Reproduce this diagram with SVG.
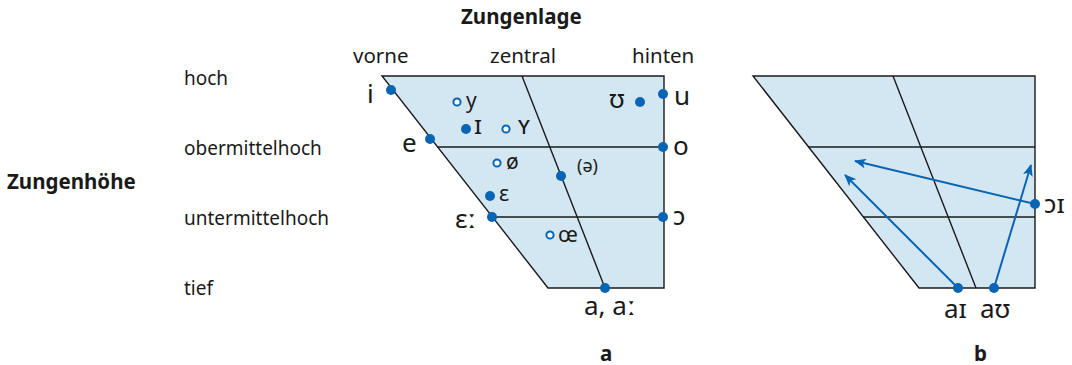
<svg xmlns="http://www.w3.org/2000/svg" width="1072" height="365" viewBox="0 0 1072 365">
<style>
.t{font-family:"Noto Sans","Open Sans","DejaVu Sans",sans-serif;fill:#1a1a1a}
.lab{font-size:19px}
.top{font-size:20.5px}
.big{font-size:26px}
.sm{font-size:21px}
.sc{font-size:25px}
.b{font-weight:bold;font-size:20.5px}
.area{fill:#d3e7f3;stroke:none}
.ln{stroke:#1a1a1a;stroke-width:1.4;fill:none}
.dot{fill:#0a64b4}
.open{fill:#ffffff;stroke:#0a64b4;stroke-width:2}
.arr{stroke:#0a64b4;stroke-width:2;fill:none;marker-end:url(#ah)}
</style>
<defs>
<marker id="ah" viewBox="0 0 12 10" refX="11" refY="5" markerWidth="12" markerHeight="10" markerUnits="userSpaceOnUse" orient="auto">
<path d="M0,0 L12,5 L0,10 L3,5 Z" fill="#0a64b4"/>
</marker>
</defs>

<g id="axis-labels">
<text class="t b" x="461" y="24">Zungenlage</text>
<text class="t b" x="7" y="189">Zungenhöhe</text>
<text class="t top" x="353" y="63">vorne</text>
<text class="t top" x="490" y="63">zentral</text>
<text class="t top" x="632" y="63">hinten</text>
<text class="t lab" x="184" y="85">hoch</text>
<text class="t lab" x="184" y="155">obermittelhoch</text>
<text class="t lab" x="184" y="225">untermittelhoch</text>
<text class="t lab" x="184" y="295">tief</text>
<text class="t b" x="600" y="361">a</text>
<text class="t b" x="974" y="361">b</text>
</g>

<g id="chart-a">
<polygon class="area" points="382,76 664,76 664,288 548,288"/>
<polygon class="ln" points="382,76 664,76 664,288 548,288"/>
<line class="ln" x1="437.6" y1="147" x2="664" y2="147"/>
<line class="ln" x1="492" y1="217" x2="664" y2="217"/>
<line class="ln" x1="522" y1="76" x2="605" y2="288"/>
</g>

<g id="vowels-a">
<circle class="dot" cx="391" cy="90" r="5"/>
<circle class="dot" cx="430" cy="139" r="5"/>
<circle class="dot" cx="492" cy="217" r="5"/>
<circle class="dot" cx="605" cy="288" r="5"/>
<circle class="dot" cx="663" cy="94" r="5"/>
<circle class="dot" cx="663" cy="147" r="5"/>
<circle class="dot" cx="663" cy="217" r="5"/>
<circle class="dot" cx="640" cy="102" r="5"/>
<circle class="dot" cx="561" cy="176" r="5"/>
<circle class="dot" cx="466" cy="129" r="5"/>
<circle class="dot" cx="490" cy="196" r="5"/>
<circle class="open" cx="457" cy="102" r="3.6"/>
<circle class="open" cx="506" cy="129" r="3.6"/>
<circle class="open" cx="497" cy="163" r="3.6"/>
<circle class="open" cx="550" cy="235" r="3.6"/>
<text class="t big" x="367" y="103">i</text>
<text class="t big" x="402" y="152">e</text>
<text class="t big" x="455" y="228">ɛː</text>
<text class="t big" x="674" y="105">u</text>
<text class="t big" x="673" y="155">o</text>
<text class="t big" x="673" y="225">ɔ</text>
<text class="t big" x="609" y="108">ʊ</text>
<text class="t big" x="584" y="315">a, aː</text>
<text class="t sm" x="466" y="108">y</text>
<text class="t sc" x="474" y="134">ɪ</text>
<text class="t sc" x="518" y="134">ʏ</text>
<text class="t sm" x="506" y="169">ø</text>
<text class="t" style="font-size:18px" x="577" y="172">(ə)</text>
<text class="t sm" x="499" y="201">ɛ</text>
<text class="t sm" x="558" y="242">œ</text>
</g>

<g id="chart-b">
<polygon class="area" points="753,76 1035,76 1035,288 919,288"/>
<polygon class="ln" points="753,76 1035,76 1035,288 919,288"/>
<line class="ln" x1="808.6" y1="147" x2="1035" y2="147"/>
<line class="ln" x1="863" y1="217" x2="1035" y2="217"/>
<line class="ln" x1="893" y1="76" x2="976" y2="288"/>
</g>

<g id="connectors">
<line class="arr" x1="958" y1="288" x2="845" y2="175"/>
<line class="arr" x1="1035" y1="204" x2="855" y2="161"/>
<line class="arr" x1="994" y1="288" x2="1031" y2="165"/>
</g>

<g id="vowels-b">
<circle class="dot" cx="958" cy="288" r="5"/>
<circle class="dot" cx="994" cy="288" r="5"/>
<circle class="dot" cx="1035" cy="204" r="5"/>
<text class="t big" x="944" y="318">aɪ</text>
<text class="t big" x="980" y="318">aʊ</text>
<text class="t big" x="1044" y="213">ɔɪ</text>
</g>
</svg>
